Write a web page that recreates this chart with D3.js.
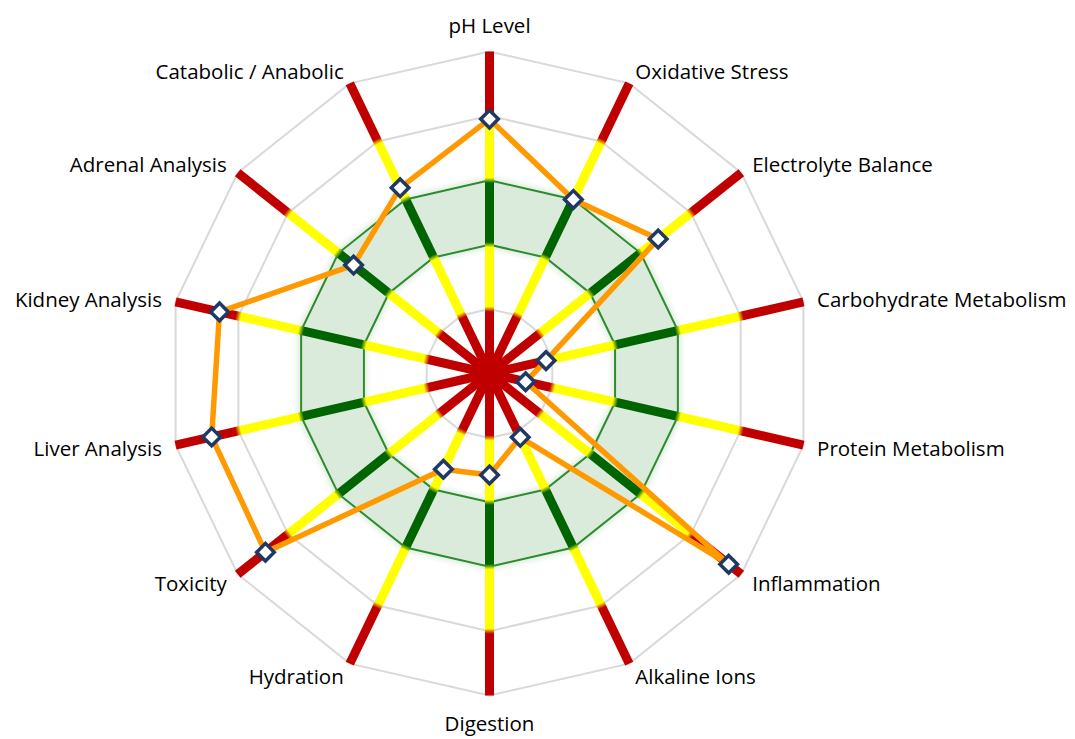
<!DOCTYPE html>
<html lang="en">
<head>
    <meta charset="UTF-8">
    <title>Radar Chart</title>
    <script src="https://d3js.org/d3.v7.min.js"></script>
    <style>
        html, body { margin: 0; padding: 0; background: #fff; }
        svg text { font-family: "Open Sans", "Noto Sans", sans-serif; font-size: 20.5px; fill: #000; }
    </style>
</head>
<body>
<svg width="1075" height="739"></svg>

<script>
    // categories, clockwise from the top
    const categories = [
        "pH Level", "Oxidative Stress", "Electrolyte Balance", "Carbohydrate Metabolism",
        "Protein Metabolism", "Inflammation", "Alkaline Ions", "Digestion", "Hydration",
        "Toxicity", "Liver Analysis", "Kidney Analysis", "Adrenal Analysis", "Catabolic / Anabolic"
    ];
    const values = [79, 60, 67, 18, 11.5, 95, 22, 31.5, 33, 89, 88.5, 86, 54, 64];

    // zone limits along each axis (0..100)
    const zoneBreaks = [0, 20, 40, 60, 80, 100];
    const zoneColors = ["#c00000", "#ffff00", "#006400", "#ffff00", "#c00000"];
    const grayRings = [20, 80, 100];
    const optimalBand = [40, 60];

    const cx = 489.5, cy = 373.5, R = 322;
    const n = categories.length;
    const svg = d3.select("svg");
    const defs = svg.append("defs");
    const g = svg.append("g").attr("transform", `translate(${cx},${cy})`);

    const r = d3.scaleLinear().domain([0, 100]).range([0, R]);
    const angle = d3.scaleLinear().domain([0, n]).range([0, 2 * Math.PI]);
    const px = (i, v) => r(v) * Math.sin(angle(i));
    const py = (i, v) => -r(v) * Math.cos(angle(i));
    const ring = v => d3.range(n).map(i => [px(i, v), py(i, v)]);

    // gray grid polygons
    g.append("g").selectAll("polygon").data(grayRings).enter().append("polygon")
        .attr("points", d => ring(d).join(" "))
        .attr("fill", "none")
        .attr("stroke", "#d9d9d9")
        .attr("stroke-width", 2);

    // optimal band (green ring) with a soft glow
    const bandPath = "M" + ring(optimalBand[1]).join("L") + "Z" +
                     "M" + ring(optimalBand[0]).reverse().join("L") + "Z";
    defs.append("filter").attr("id", "soft")
        .attr("x", "-10%").attr("y", "-10%").attr("width", "120%").attr("height", "120%")
        .append("feGaussianBlur").attr("stdDeviation", 2.5);
    g.append("path").attr("d", bandPath)
        .attr("fill", "#dcecdc")
        .attr("stroke", "#e2f0e2")
        .attr("stroke-width", 8)
        .attr("filter", "url(#soft)");
    g.append("path").attr("d", bandPath)
        .attr("fill", "#dbebdb")
        .attr("fill-rule", "evenodd");
    g.append("g").selectAll("polygon").data(optimalBand).enter().append("polygon")
        .attr("points", d => ring(d).join(" "))
        .attr("fill", "none")
        .attr("stroke", "#2e8b2e")
        .attr("stroke-width", 2);

    // colored axes
    const blend = 0.008;
    categories.forEach((c, i) => {
        const grad = defs.append("linearGradient")
            .attr("id", "ax" + i)
            .attr("gradientUnits", "userSpaceOnUse")
            .attr("x1", 0).attr("y1", 0)
            .attr("x2", px(i, 100)).attr("y2", py(i, 100));
        zoneColors.forEach((col, k) => {
            const a = zoneBreaks[k] / 100, b = zoneBreaks[k + 1] / 100;
            grad.append("stop").attr("offset", k === 0 ? 0 : a + blend).attr("stop-color", col);
            grad.append("stop").attr("offset", k === zoneColors.length - 1 ? 1 : b - blend).attr("stop-color", col);
        });
    });
    g.append("g").selectAll("line").data(categories).enter().append("line")
        .attr("x1", 0).attr("y1", 0)
        .attr("x2", (d, i) => px(i, 100))
        .attr("y2", (d, i) => py(i, 100))
        .attr("stroke", (d, i) => `url(#ax${i})`)
        .attr("stroke-width", 9);

    // data line
    const line = d3.line().curve(d3.curveLinearClosed);
    g.append("path")
        .attr("d", line(values.map((v, i) => [px(i, v), py(i, v)])))
        .attr("fill", "none")
        .attr("stroke", "#ff9900")
        .attr("stroke-width", 5.5)
        .attr("stroke-linejoin", "round");

    // markers
    const sym = d3.symbol().type(d3.symbolSquare).size(155);
    g.append("g").selectAll("path").data(values).enter().append("path")
        .attr("d", sym)
        .attr("transform", (v, i) => `translate(${px(i, v)},${py(i, v)}) rotate(45)`)
        .attr("fill", "#fff")
        .attr("stroke", "#1f3864")
        .attr("stroke-width", 3.5);

    // labels
    const lr = R + 14;
    g.append("g").selectAll("text").data(categories).enter().append("text")
        .attr("x", (d, i) => lr * Math.sin(angle(i)))
        .attr("y", (d, i) => {
            const cs = Math.cos(angle(i));
            const y = -lr * cs;
            return Math.abs(Math.sin(angle(i))) < 0.01 ? y - 13 * Math.sign(cs) : y;
        })
        .attr("dominant-baseline", "central")
        .attr("text-anchor", (d, i) => {
            const s = Math.sin(angle(i));
            return s > 0.01 ? "start" : s < -0.01 ? "end" : "middle";
        })
        .text(d => d);
</script>
</body>
</html>
